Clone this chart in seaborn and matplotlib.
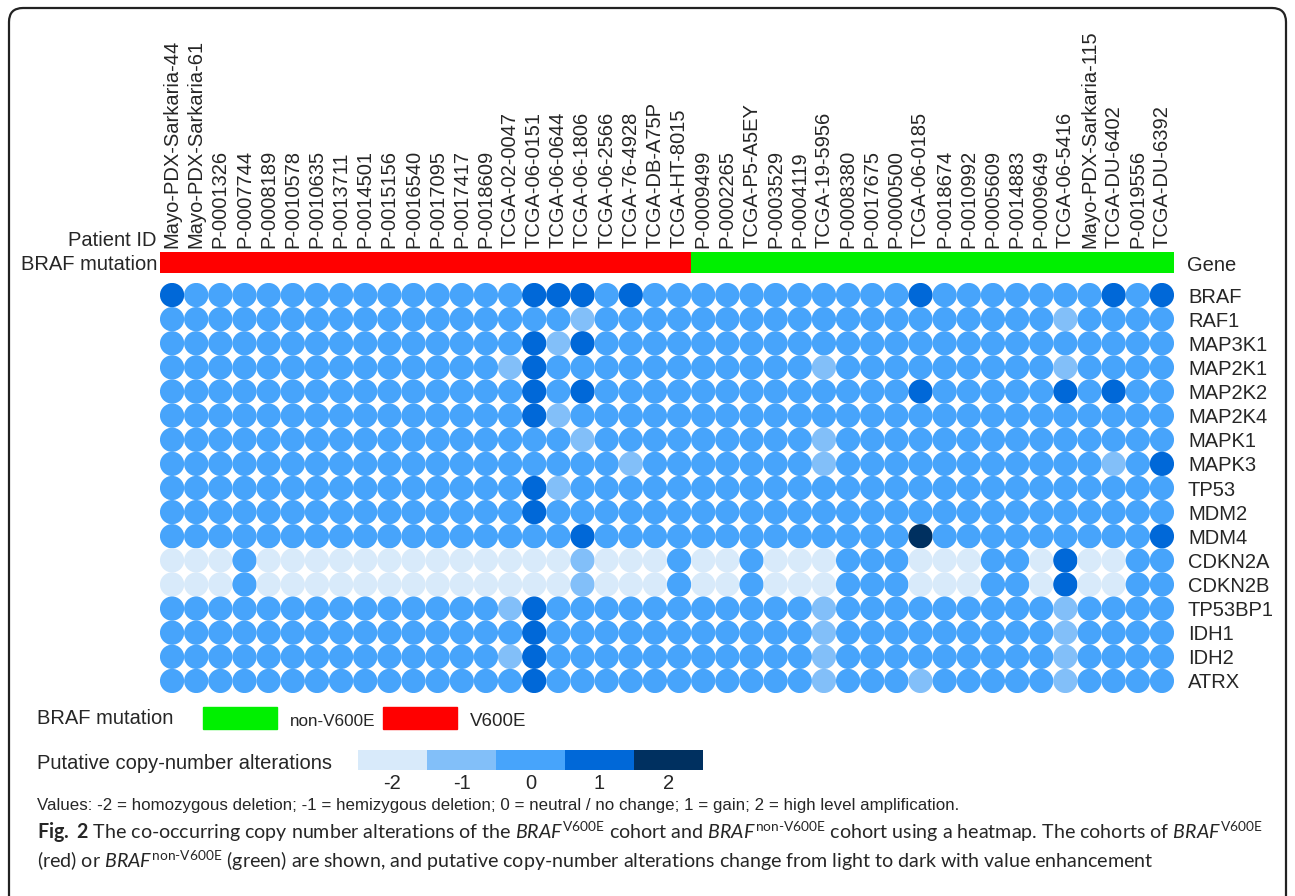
import numpy as np
import pandas as pd
import matplotlib
matplotlib.use("Agg")
import matplotlib.pyplot as plt
import seaborn as sns
from matplotlib.colors import ListedColormap
from matplotlib.patches import FancyBboxPatch, Rectangle

# patients in plotted order (22 V600E, then 20 non-V600E)
patients = ["Mayo-PDX-Sarkaria-44", "Mayo-PDX-Sarkaria-61", "P-0001326", "P-0007744",
            "P-0008189", "P-0010578", "P-0010635", "P-0013711", "P-0014501", "P-0015156",
            "P-0016540", "P-0017095", "P-0017417", "P-0018609", "TCGA-02-0047", "TCGA-06-0151",
            "TCGA-06-0644", "TCGA-06-1806", "TCGA-06-2566", "TCGA-76-4928", "TCGA-DB-A75P",
            "TCGA-HT-8015", "P-0009499", "P-0002265", "TCGA-P5-A5EY", "P-0003529", "P-0004119",
            "TCGA-19-5956", "P-0008380", "P-0017675", "P-0000500", "TCGA-06-0185", "P-0018674",
            "P-0010992", "P-0005609", "P-0014883", "P-0009649", "TCGA-06-5416",
            "Mayo-PDX-Sarkaria-115", "TCGA-DU-6402", "P-0019556", "TCGA-DU-6392"]
braf_status = ["V600E"] * 22 + ["non-V600E"] * 20

genes = ["BRAF", "RAF1", "MAP3K1", "MAP2K1", "MAP2K2", "MAP2K4", "MAPK1", "MAPK3", "TP53",
         "MDM2", "MDM4", "CDKN2A", "CDKN2B", "TP53BP1", "IDH1", "IDH2", "ATRX"]

# putative copy-number alterations, one list per gene (42 patients)
braf    = [1,0,0,0,0,0,0,0,0,0, 0,0,0,0,0,1,1,1,0,1, 0,0,0,0,0,0,0,0,0,0, 0,1,0,0,0,0,0,0,0,1, 0,1]
raf1    = [0,0,0,0,0,0,0,0,0,0, 0,0,0,0,0,0,0,-1,0,0, 0,0,0,0,0,0,0,0,0,0, 0,0,0,0,0,0,0,-1,0,0, 0,0]
map3k1  = [0,0,0,0,0,0,0,0,0,0, 0,0,0,0,0,1,-1,1,0,0, 0,0,0,0,0,0,0,0,0,0, 0,0,0,0,0,0,0,0,0,0, 0,0]
map2k1  = [0,0,0,0,0,0,0,0,0,0, 0,0,0,0,-1,1,0,0,0,0, 0,0,0,0,0,0,0,-1,0,0, 0,0,0,0,0,0,0,-1,0,0, 0,0]
map2k2  = [0,0,0,0,0,0,0,0,0,0, 0,0,0,0,0,1,0,1,0,0, 0,0,0,0,0,0,0,0,0,0, 0,1,0,0,0,0,0,1,0,1, 0,0]
map2k4  = [0,0,0,0,0,0,0,0,0,0, 0,0,0,0,0,1,-1,0,0,0, 0,0,0,0,0,0,0,0,0,0, 0,0,0,0,0,0,0,0,0,0, 0,0]
mapk1   = [0,0,0,0,0,0,0,0,0,0, 0,0,0,0,0,0,0,-1,0,0, 0,0,0,0,0,0,0,-1,0,0, 0,0,0,0,0,0,0,0,0,0, 0,0]
mapk3   = [0,0,0,0,0,0,0,0,0,0, 0,0,0,0,0,0,0,0,0,-1, 0,0,0,0,0,0,0,-1,0,0, 0,0,0,0,0,0,0,0,0,-1, 0,1]
tp53    = [0,0,0,0,0,0,0,0,0,0, 0,0,0,0,0,1,-1,0,0,0, 0,0,0,0,0,0,0,0,0,0, 0,0,0,0,0,0,0,0,0,0, 0,0]
mdm2    = [0,0,0,0,0,0,0,0,0,0, 0,0,0,0,0,1,0,0,0,0, 0,0,0,0,0,0,0,0,0,0, 0,0,0,0,0,0,0,0,0,0, 0,0]
mdm4    = [0,0,0,0,0,0,0,0,0,0, 0,0,0,0,0,0,0,1,0,0, 0,0,0,0,0,0,0,0,0,0, 0,2,0,0,0,0,0,0,0,0, 0,1]
cdkn2a  = [-2,-2,-2,0,-2,-2,-2,-2,-2,-2, -2,-2,-2,-2,-2,-2,-2,-1,-2,-2,
           -2,0,-2,-2,0,-2,-2,-2,0,0, 0,-2,-2,-2,0,0,-2,1,-2,-2, 0,0]
cdkn2b  = [-2,-2,-2,0,-2,-2,-2,-2,-2,-2, -2,-2,-2,-2,-2,-2,-2,-1,-2,-2,
           -2,0,-2,-2,0,-2,-2,-2,0,0, 0,-2,-2,-2,0,0,-2,1,-2,-2, 0,0]
tp53bp1 = [0,0,0,0,0,0,0,0,0,0, 0,0,0,0,-1,1,0,0,0,0, 0,0,0,0,0,0,0,-1,0,0, 0,0,0,0,0,0,0,-1,0,0, 0,0]
idh1    = [0,0,0,0,0,0,0,0,0,0, 0,0,0,0,0,1,0,0,0,0, 0,0,0,0,0,0,0,-1,0,0, 0,0,0,0,0,0,0,-1,0,0, 0,0]
idh2    = [0,0,0,0,0,0,0,0,0,0, 0,0,0,0,-1,1,0,0,0,0, 0,0,0,0,0,0,0,-1,0,0, 0,0,0,0,0,0,0,-1,0,0, 0,0]
atrx    = [0,0,0,0,0,0,0,0,0,0, 0,0,0,0,0,1,0,0,0,0, 0,0,0,0,0,0,0,-1,0,0, 0,-1,0,0,0,0,0,-1,0,0, 0,0]

cna_levels = [-2, -1, 0, 1, 2]
cna_colors = ["#d8eafa", "#82bff9", "#47a4fb", "#0068d8", "#003060"]
status_colors = {"non-V600E": "#00f000", "V600E": "#ff0000"}

rows = [braf, raf1, map3k1, map2k1, map2k2, map2k4, mapk1, mapk3, tp53, mdm2, mdm4,
        cdkn2a, cdkn2b, tp53bp1, idh1, idh2, atrx]
df = pd.DataFrame([(p, g, v) for g, r in zip(genes, rows) for p, v in zip(patients, r)],
                  columns=["patient", "gene", "cna"])

sns.set_style("white")
plt.rcParams["font.family"] = ["Liberation Sans", "DejaVu Sans"]
FS = 14.5

W, H = 1295, 896
fig = plt.figure(figsize=(W / 100, H / 100), dpi=100)


def ax_px(x0, y0, x1, y1):
    return fig.add_axes([x0 / W, 1 - y1 / H, (x1 - x0) / W, (y1 - y0) / H])


# dot heatmap
ax = ax_px(160, 283, 1174, 693)
sns.scatterplot(data=df, x="patient", y="gene", hue="cna",
                palette=dict(zip(cna_levels, cna_colors)), s=305, linewidth=0,
                legend=False, ax=ax)
ax.set_xlim(-0.5, len(patients) - 0.5)
ax.set_ylim(len(genes) - 0.5, -0.5)
ax.yaxis.tick_right()
ax.tick_params(axis="y", length=0, pad=10, labelsize=FS)
ax.tick_params(axis="x", bottom=False, labelbottom=False)
ax.set_xlabel("")
ax.set_ylabel("")
sns.despine(ax=ax, left=True, bottom=True)

# BRAF mutation bar with patient IDs
ax_bar = ax_px(160, 252, 1174, 273)
codes = pd.DataFrame([[1 if s == "V600E" else 0 for s in braf_status]], columns=patients)
sns.heatmap(codes, cmap=ListedColormap([status_colors["non-V600E"], status_colors["V600E"]]),
            vmin=0, vmax=1, cbar=False, xticklabels=True, yticklabels=False, ax=ax_bar)
ax_bar.tick_params(axis="x", top=False, bottom=False, labeltop=True, labelbottom=False,
                   length=0, pad=3, labelsize=FS, labelrotation=90)
ax_bar.set_xlabel("")

fig.text(157 / W, 1 - 241 / H, "Patient ID", ha="right", va="center", fontsize=FS)
fig.text(157 / W, 1 - 264 / H, "BRAF mutation", ha="right", va="center", fontsize=FS)
fig.text(1187 / W, 1 - 265 / H, "Gene", ha="left", va="center", fontsize=FS)

# legends
fig.text(37 / W, 1 - 718 / H, "BRAF mutation", va="center", fontsize=FS)
for x0, lab, fs in [(203, "non-V600E", 12.3), (383, "V600E", 13.5)]:
    fig.add_artist(Rectangle((x0 / W, 1 - 729 / H), 74 / W, 22 / H,
                             transform=fig.transFigure, color=status_colors[lab]))
    fig.text((x0 + 87) / W, 1 - 721 / H, lab, va="center", fontsize=fs)

fig.text(37 / W, 1 - 763 / H, "Putative copy-number alterations", va="center", fontsize=FS)
ax_cb = ax_px(358, 750, 703, 770)
sns.heatmap(pd.DataFrame([cna_levels], columns=cna_levels), cmap=ListedColormap(cna_colors),
            vmin=-2.5, vmax=2.5, cbar=False, xticklabels=True, yticklabels=False, ax=ax_cb)
ax_cb.tick_params(axis="x", length=0, pad=3, labelsize=FS, labelrotation=0)
ax_cb.set_xlabel("")

fig.text(37 / W, 1 - 805 / H,
         "Values: -2 = homozygous deletion; -1 = hemizygous deletion; 0 = neutral / no change; "
         "1 = gain; 2 = high level amplification.",
         va="center", fontsize=12.2)

plt.rcParams["mathtext.fontset"] = "custom"
plt.rcParams["mathtext.rm"] = "Lato"
plt.rcParams["mathtext.it"] = "Lato:italic"
plt.rcParams["mathtext.bf"] = "Lato:bold"
b1 = r"$\it{BRAF}^{\rm{V600E}}$"
b2 = r"$\it{BRAF}^{\rm{non\text{-}V600E}}$"
cap1 = (r"$\bf{Fig.\ 2}$ The co-occurring copy number alterations of the " + b1 +
        " cohort and " + b2 + " cohort using a heatmap. The cohorts of " + b1)
cap2 = ("(red) or " + b2 + " (green) are shown, and putative copy-number alterations "
        "change from light to dark with value enhancement")
fig.text(37 / W, 1 - 832 / H, cap1, va="center", fontsize=14.1, family="Lato")
fig.text(37 / W, 1 - 861 / H, cap2, va="center", fontsize=14.1, family="Lato")

# rounded figure frame
fig.add_artist(FancyBboxPatch((0.09, -0.3), 12.77, 9.18, boxstyle="round,pad=0,rounding_size=0.14",
                              transform=fig.dpi_scale_trans, fill=False, lw=1.6, ec="#222222"))

fig.savefig("out.png", dpi=100)
